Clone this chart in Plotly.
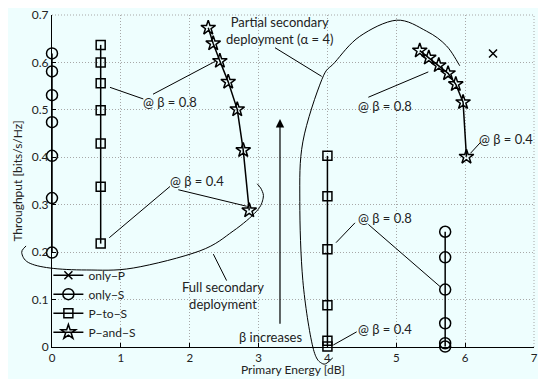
import plotly.graph_objects as go

# ---------------- data ----------------
onlyP_x = [6.405]
onlyP_y = [0.619]

onlyS_x1 = [0, 0, 0, 0, 0, 0, 0]
onlyS_y1 = [0.619, 0.581, 0.531, 0.474, 0.403, 0.314, 0.199]
onlyS_x2 = [5.71, 5.71, 5.71, 5.71, 5.71, 5.71]
onlyS_y2 = [0.243, 0.189, 0.121, 0.050, 0.008, 0.001]

PtoS_x1 = [0.707] * 7
PtoS_y1 = [0.637, 0.600, 0.556, 0.499, 0.429, 0.338, 0.218]
PtoS_x2 = [4.0] * 6
PtoS_y2 = [0.403, 0.318, 0.206, 0.088, 0.013, 0.001]

PandS_x1 = [2.269, 2.341, 2.438, 2.559, 2.690, 2.777, 2.864]
PandS_y1 = [0.673, 0.640, 0.603, 0.559, 0.501, 0.415, 0.288]
PandS_x2 = [5.341, 5.472, 5.617, 5.752, 5.864, 5.970, 6.019]
PandS_y2 = [0.625, 0.610, 0.594, 0.577, 0.554, 0.516, 0.401]

x_ticks = [0, 1, 2, 3, 4, 5, 6, 7]
y_ticks = [0, 0.1, 0.2, 0.3, 0.4, 0.5, 0.6, 0.7]
y_tick_text = ["0", "0.1", "0.2", "0.3", "0.4", "0.5", "0.6", "0.7"]
XR = [0, 7]
YR = [0, 0.7]
x_title = "Primary Energy [dB]"
y_title = "Throughput [bits/s/Hz]"

FONT = "Lato"
TXT = "#222222"
BG = "#EEFEFE"
GRID = "#a8a8a8"

MT, MB, H = 7, 32, 371

fig = go.Figure()

def join(a, b):
    return list(a) + [None] + list(b)

common = dict(mode="lines+markers", line=dict(color="black", width=1.5), cliponaxis=False)

fig.add_trace(go.Scatter(x=onlyP_x, y=onlyP_y, name="only\u2212P", **common,
                         marker=dict(symbol="x-thin-open", size=8, color="black",
                                     line=dict(color="black", width=1.5))))
fig.add_trace(go.Scatter(x=join(onlyS_x1, onlyS_x2), y=join(onlyS_y1, onlyS_y2),
                         name="only\u2212S", **common,
                         marker=dict(symbol="circle-open", size=11, color="black",
                                     line=dict(color="black", width=1.5))))
fig.add_trace(go.Scatter(x=join(PtoS_x1, PtoS_x2), y=join(PtoS_y1, PtoS_y2),
                         name="P\u2212to\u2212S", **common,
                         marker=dict(symbol="square-open", size=9, color="black",
                                     line=dict(color="black", width=1.5))))
fig.add_trace(go.Scatter(x=join(PandS_x1, PandS_x2), y=join(PandS_y1, PandS_y2),
                         name="P\u2212and\u2212S", **common,
                         marker=dict(symbol="star-open", size=11, color="black",
                                     line=dict(color="black", width=1.5))))

# ---------------- annotation geometry (data units) ----------------
def to_paper(pt):
    return ((pt[0] - XR[0]) / (XR[1] - XR[0]), (pt[1] - YR[0]) / (YR[1] - YR[0]))

def smooth_path(pts):
    p = [to_paper(q) for q in pts]
    d = "M %.5f %.5f" % p[0]
    n = len(p)
    for i in range(n - 1):
        p0 = p[i - 1] if i > 0 else p[i]
        p1 = p[i]
        p2 = p[i + 1]
        p3 = p[i + 2] if i + 2 < n else p[i + 1]
        c1 = (p1[0] + (p2[0] - p0[0]) / 6, p1[1] + (p2[1] - p0[1]) / 6)
        c2 = (p2[0] - (p3[0] - p1[0]) / 6, p2[1] - (p3[1] - p1[1]) / 6)
        d += " C %.5f %.5f, %.5f %.5f, %.5f %.5f" % (c1[0], c1[1], c2[0], c2[1], p2[0], p2[1])
    return d

partial_curve = [(4.078, -0.023), (3.933, -0.0355), (3.788, 0.0), (3.643, 0.140),
                 (3.599, 0.307), (3.643, 0.4325), (3.919, 0.564), (4.107, 0.600),
                 (4.470, 0.655), (5.003, 0.689), (5.438, 0.666), (5.729, 0.635),
                 (5.922, 0.593)]
full_curve = [(-0.377, 0.2131), (-0.440, 0.1991), (-0.344, 0.1782), (-0.029, 0.1665),
              (0.504, 0.1624), (1.180, 0.1665), (2.148, 0.2027), (2.631, 0.2445),
              (2.971, 0.2862), (3.067, 0.3140), (3.044, 0.3316), (2.980, 0.3441)]

# dotted grid lines on the top and right edges of the plot box
fig.add_shape(type="line", xref="paper", yref="paper", x0=0, x1=1, y0=1, y1=1,
              line=dict(color=GRID, width=1, dash="1px,2px"), layer="below")
fig.add_shape(type="line", xref="paper", yref="paper", x0=1, x1=1, y0=0, y1=1,
              line=dict(color=GRID, width=1, dash="1px,2px"), layer="below")

for curve in (partial_curve, full_curve):
    fig.add_shape(type="path", xref="paper", yref="paper", path=smooth_path(curve),
                  line=dict(color="black", width=1))

leader_lines = [
    ((0.842, 0.5475), (1.326, 0.523)),
    ((1.467, 0.533), (2.367, 0.602)),
    ((1.714, 0.3385), (0.832, 0.2305)),
    ((1.834, 0.3316), (2.828, 0.2967)),
    ((3.239, 0.631), (3.917, 0.5705)),
    ((2.343, 0.1958), (2.536, 0.140)),
    ((4.594, 0.5266), (5.465, 0.580)),
    ((6.230, 0.4325), (6.078, 0.4085)),
    ((4.400, 0.2618), (4.125, 0.220)),
    ((4.594, 0.2585), (5.635, 0.1275)),
    ((4.425, 0.032), (4.085, 0.0042)),
]
for (a, b) in leader_lines:
    fig.add_shape(type="line", xref="x", yref="y", x0=a[0], y0=a[1], x1=b[0], y1=b[1],
                  line=dict(color="black", width=1))

labels = [
    (1.714, 0.516, "@ \u03b2 = 0.8"),
    (2.106, 0.349, "@ \u03b2 = 0.4"),
    (3.311, 0.6667, "Partial secondary<br>deployment (\u03b1 = 4)"),
    (2.483, 0.1087, "Full secondary<br>deployment"),
    (3.173, 0.0215, "\u03b2 increases"),
    (4.836, 0.509, "@ \u03b2 = 0.8"),
    (6.593, 0.4388, "@ \u03b2 = 0.4"),
    (4.836, 0.2723, "@ \u03b2 = 0.8"),
    (4.836, 0.039, "@ \u03b2 = 0.4"),
]
for (x, y, t) in labels:
    fig.add_annotation(x=x, y=y, xref="x", yref="y", text=t, showarrow=False,
                       xanchor="center", yanchor="middle",
                       font=dict(family=FONT, size=13, color=TXT))

# beta increases arrow
fig.add_annotation(x=3.311, y=0.4806, ax=3.311, ay=0.046, xref="x", yref="y",
                   axref="x", ayref="y", text="", showarrow=True,
                   arrowhead=2, arrowsize=1.4, arrowwidth=1.2, arrowcolor="black")

# x-axis title placed at the bottom edge of the figure
plot_h = H - MT - MB
fig.add_annotation(x=0.5, y=-MB / plot_h, xref="paper", yref="paper", text=x_title,
                   showarrow=False, xanchor="center", yanchor="bottom", yshift=0,
                   font=dict(family=FONT, size=12, color=TXT))

axis_common = dict(showline=True, linecolor="black", linewidth=1, ticks="inside",
                   ticklen=4, tickcolor="black", mirror=False, showgrid=True,
                   gridcolor=GRID, griddash="1px,2px", gridwidth=1, zeroline=False,
                   automargin=False, ticklabeloverflow="allow")

# the page places the figure 8px from the left/top edge of the window
fig.update_layout(
    width=538, height=H,
    margin=dict(l=44, r=12, t=MT, b=MB),
    paper_bgcolor=BG,
    plot_bgcolor=BG,
    font=dict(family=FONT, size=13, color=TXT),
    xaxis=dict(range=XR, tickvals=x_ticks, **axis_common,
               tickfont=dict(family=FONT, size=11.5, color=TXT)),
    yaxis=dict(range=YR, tickvals=y_ticks, ticktext=y_tick_text, **axis_common,
               tickfont=dict(family=FONT, size=12, color=TXT),
               title=dict(text=y_title, standoff=6,
                          font=dict(family=FONT, size=12, color=TXT))),
    legend=dict(x=-0.0075, y=0.26, xanchor="left", yanchor="top",
                bgcolor="rgba(0,0,0,0)", borderwidth=0,
                font=dict(family=FONT, size=12, color=TXT), tracegroupgap=0),
    showlegend=True,
)

fig.write_html("out.html")
